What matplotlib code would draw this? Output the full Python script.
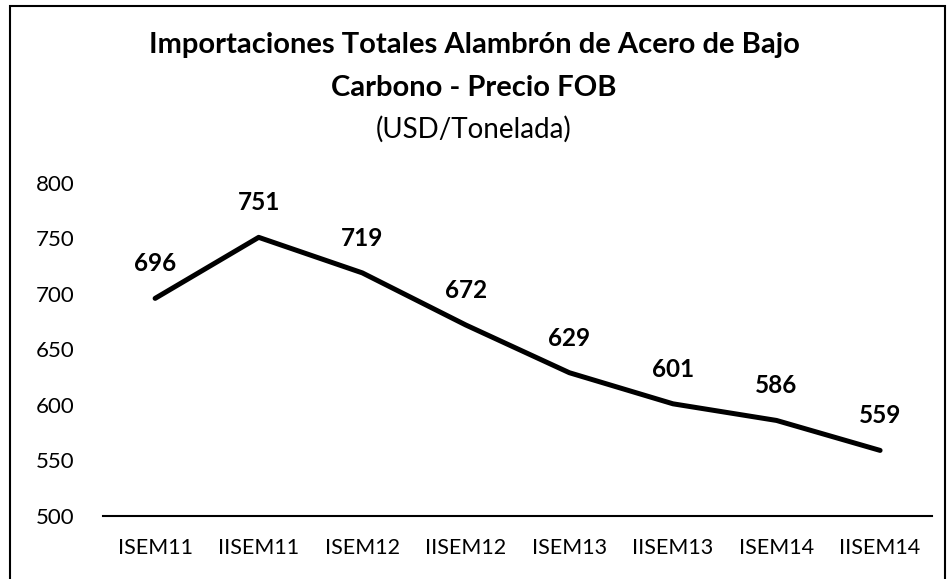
import matplotlib

matplotlib.use("Agg")
import matplotlib.pyplot as plt
from matplotlib.patches import Rectangle

plt.rcParams["font.family"] = ["Lato", "DejaVu Sans"]

# --------------------------------------------------------------------------- #
#  Data
# --------------------------------------------------------------------------- #
periods = ["ISEM11", "IISEM11", "ISEM12", "IISEM12",
           "ISEM13", "IISEM13", "ISEM14", "IISEM14"]
precio_fob = [696, 751, 719, 672, 629, 601, 586, 559]
y_ticks = [500, 550, 600, 650, 700, 750, 800]

fig = plt.figure(figsize=(9.48, 5.79), dpi=100)
ax = fig.add_axes([0.109, 0.109, 0.874, 0.575])

x = range(len(periods))
ax.plot(x, precio_fob, color="black", linewidth=3.6,
        solid_joinstyle="round", solid_capstyle="round", zorder=3)
for xi, v in zip(x, precio_fob):
    ax.annotate(f"{v}", (xi, v), xytext=(0, 25), textcoords="offset points",
                ha="center", va="center", fontsize=17.5, weight="bold",
                color="black")

ax.set_xlim(-0.5, len(periods) - 0.5)
ax.set_ylim(500, 800)
ax.set_yticks(y_ticks)
ax.set_xticks(list(x))
ax.set_xticklabels(periods)
ax.tick_params(axis="y", length=0, pad=21, labelsize=16)
ax.tick_params(axis="x", length=0, pad=16, labelsize=15.5)
for side in ("top", "right", "left"):
    ax.spines[side].set_visible(False)
ax.spines["bottom"].set_linewidth(1.5)

fig.text(0.5, 0.922, "Importaciones Totales Alambrón de Acero de Bajo",
         ha="center", va="center", fontsize=21, weight="bold")
fig.text(0.5, 0.848, "Carbono - Precio FOB", ha="center", va="center",
         fontsize=21, weight="bold")
fig.text(0.5, 0.776, "(USD/Tonelada)", ha="center", va="center",
         fontsize=20)

# outer frame
fig.patches.append(Rectangle((0.011, -0.05), 0.986, 1.04,
                             transform=fig.transFigure, fill=False,
                             edgecolor="black", linewidth=1.5,
                             clip_on=False))

fig.savefig("out.png", dpi=100, facecolor="white")
